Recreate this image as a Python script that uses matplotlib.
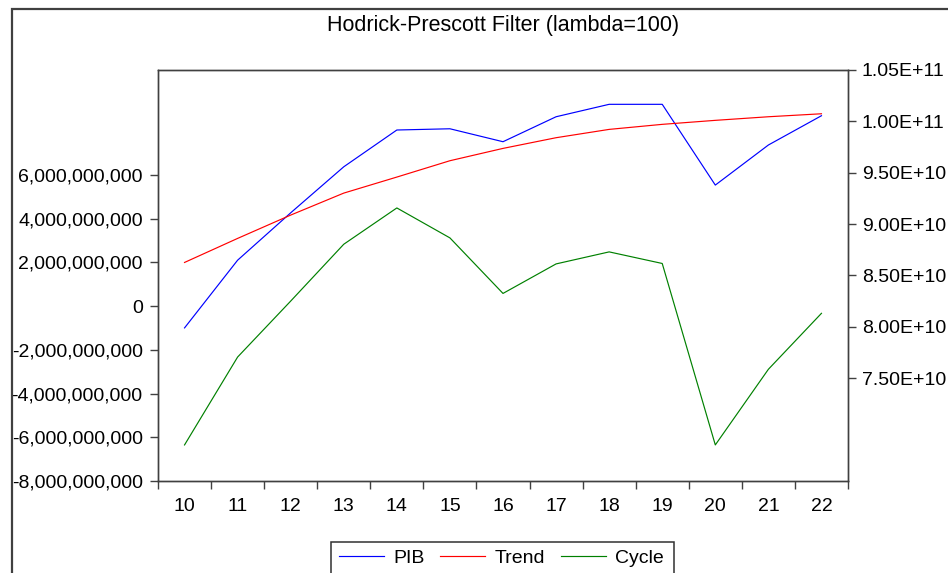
import matplotlib
matplotlib.use("Agg")
import matplotlib.pyplot as plt
from matplotlib.patches import Rectangle
from matplotlib.ticker import FuncFormatter, FixedLocator
import numpy as np

plt.rcParams['font.family'] = ['Liberation Sans', 'DejaVu Sans']

# ---- data ----
years = [10, 11, 12, 13, 14, 15, 16, 17, 18, 19, 20, 21, 22]
year_labels = [str(y) for y in years]
pib = [79.90e9, 86.49e9, 91.10e9, 95.58e9, 99.16e9, 99.28e9, 98.02e9,
       100.45e9, 101.66e9, 101.66e9, 93.80e9, 97.70e9, 100.55e9]
trend = [86.27e9, 88.61e9, 90.88e9, 93.02e9, 94.58e9, 96.17e9, 97.37e9,
         98.41e9, 99.22e9, 99.71e9, 100.10e9, 100.45e9, 100.74e9]
cycle = [-6.35e9, -2.33e9, 0.23e9, 2.83e9, 4.49e9, 3.12e9, 0.58e9,
         1.93e9, 2.48e9, 1.95e9, -6.35e9, -2.89e9, -0.33e9]
left_ticks = [-8e9, -6e9, -4e9, -2e9, 0, 2e9, 4e9, 6e9]
right_ticks = [7.5e10, 8.0e10, 8.5e10, 9.0e10, 9.5e10, 1.0e11, 1.05e11]
title = "Hodrick-Prescott Filter (lambda=100)"

W, H = 948, 573
fig = plt.figure(figsize=(W / 100, H / 100), dpi=100)
fig.patch.set_facecolor('white')

L, R, T, B = 158, 848, 70, 481
ax = fig.add_axes([L / W, 1 - B / H, (R - L) / W, (B - T) / H])
ax2 = ax.twinx()

spine_c = '#404040'
fs = 14

# cycle on left axis
ax.plot(years, cycle, color='#008000', lw=0.85, label='Cycle')
ax.set_ylim(-8e9, 10.8e9)
ax.set_yticks(left_ticks)
ax.yaxis.set_major_formatter(FuncFormatter(lambda v, p: f"{v:,.0f}"))

# PIB & trend on right axis
l1, = ax2.plot(years, pib, color='#0000ff', lw=0.85, label='PIB')
l2, = ax2.plot(years, trend, color='#ff0000', lw=0.85, label='Trend')
ax2.set_ylim(6.5e10, 1.05e11)
ax2.set_yticks(right_ticks)
ax2.yaxis.set_major_formatter(FuncFormatter(lambda v, p: f"{v:.2E}"))

# x axis: ticks between categories, labels at categories
ax.set_xlim(9.5, 22.5)
ax.xaxis.set_major_locator(FixedLocator(np.arange(9.5, 23.0, 1.0)))
ax.xaxis.set_major_formatter(FuncFormatter(lambda v, p: ""))
ax.set_xticks(years, minor=True)
ax.set_xticklabels(year_labels, minor=True)
ax.tick_params(axis='x', which='major', direction='out', length=5.5, width=1.0, color=spine_c)
ax.tick_params(axis='x', which='minor', length=0, pad=12.5, labelsize=fs)
ax.tick_params(axis='y', which='both', direction='out', length=5.5, width=1.0,
               color=spine_c, pad=5.5, labelsize=fs)
ax2.tick_params(axis='y', which='both', direction='out', length=5.5, width=1.0,
                color=spine_c, pad=4.5, labelsize=fs)

for a in (ax, ax2):
    for s in a.spines.values():
        s.set_color(spine_c)
        s.set_linewidth(1.0)

# title
fig.text(503 / W, 1 - 26 / H, title, ha='center', va='center', fontsize=15.5)

# outer frame
fig.add_artist(Rectangle((11.5 / W, -0.2), 2.0, (H - 9) / H + 0.2,
                         transform=fig.transFigure, fill=False,
                         ec='#404040', lw=1.6))

# legend (frame drawn separately since it runs past the image bottom)
fig.add_artist(Rectangle((331 / W, -0.2), (674 - 331) / W, (H - 541.5) / H + 0.2,
                         transform=fig.transFigure, fill=False,
                         ec='#303030', lw=1.1))
l3 = ax.get_lines()[0]
fig.legend([l1, l2, l3], ['PIB', 'Trend', 'Cycle'], loc='center',
           bbox_to_anchor=(501.5 / W, 1 - 558 / H), ncol=3, frameon=False,
           fontsize=fs, handlelength=2.3, handletextpad=0.5,
           columnspacing=0.8, borderpad=0.0)

fig.savefig('out.png', dpi=100, facecolor='white')
